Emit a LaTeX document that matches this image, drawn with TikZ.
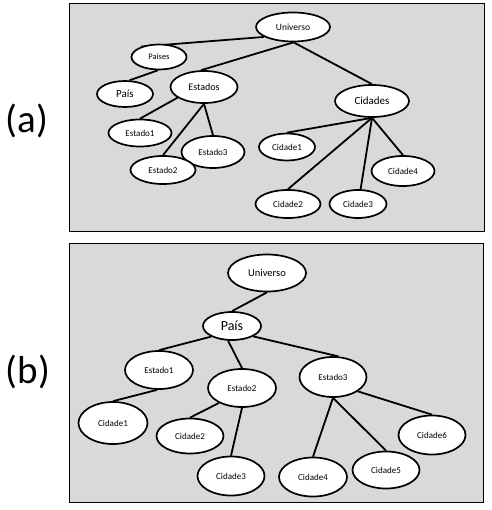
\documentclass[tikz,border=0pt]{standalone}
\usepackage{fontspec}
\setmainfont{Carlito}
\usetikzlibrary{shapes.geometric}
\pgfdeclarelayer{panels}
\pgfdeclarelayer{edges}
\pgfsetlayers{panels,edges,main}
\definecolor{panelgray}{HTML}{D9D9D9}
\tikzset{
  el/.style={ellipse, draw=black, fill=white, line width=1.7pt, inner sep=0pt, text=black},
  sz/.style 2 args={minimum width=#1pt, minimum height=#2pt},
  fs/.style={font=\fontsize{#1}{#1}\selectfont},
  edge/.style={draw=black, line width=1.8pt},
  panel/.style={draw=black, fill=panelgray, line width=1pt},
  lab/.style={font=\fontsize{39}{39}\selectfont, inner sep=0pt}
}
\begin{document}
\begin{tikzpicture}[x=1pt,y=-1pt]
\useasboundingbox (0,0) rectangle (491,510);
\begin{pgfonlayer}{panels}
  \path[panel] (69,4) rectangle (484,231);
  \path[panel] (69,243) rectangle (483,502);
\end{pgfonlayer}
\node[lab] (la) at (27,121) {(a)};
\node[lab] (lb) at (28,372) {(b)};
% panel a
\node[el, sz={74}{29}, fs=9.5] (aU) at (293,27) {Universo};
\node[el, sz={55}{25}, fs=8.5] (aPs) at (159,57) {Países};
\node[el, sz={56}{26}, fs=11] (aP) at (125,94) {País};
\node[el, sz={67}{32}, fs=10] (aE) at (204,87) {Estados};
\node[el, sz={74}{32}, fs=11] (aC) at (372,101) {Cidades};
\node[el, sz={63}{27}, fs=9] (aE1) at (140,133) {Estado1};
\node[el, sz={63}{32}, fs=9] (aE3) at (213,152) {Estado3};
\node[el, sz={65}{28}, fs=9] (aE2) at (163,170) {Estado2};
\node[el, sz={56}{27}, fs=9] (aC1) at (287,147) {Cidade1};
\node[el, sz={65}{28}, fs=9] (aC2) at (288,204) {Cidade2};
\node[el, sz={57}{28}, fs=9] (aC3) at (358,204) {Cidade3};
\node[el, sz={63}{30}, fs=9] (aC4) at (403,171) {Cidade4};
% panel b
\node[el, sz={78}{37}, fs=10.5] (bU) at (267,273) {Universo};
\node[el, sz={58}{28}, fs=14] (bP) at (232,326) {País};
\node[el, sz={68}{38}, fs=9] (bE1) at (159,370) {Estado1};
\node[el, sz={68}{38}, fs=9] (bE2) at (242,388) {Estado2};
\node[el, sz={67}{40}, fs=9] (bE3) at (333,377) {Estado3};
\node[el, sz={69}{42}, fs=9] (bC1) at (113,423) {Cidade1};
\node[el, sz={67}{35}, fs=9] (bC2) at (190,436) {Cidade2};
\node[el, sz={67}{39}, fs=9] (bC3) at (231,476) {Cidade3};
\node[el, sz={68}{39}, fs=9] (bC4) at (313,477) {Cidade4};
\node[el, sz={67}{37}, fs=9] (bC5) at (386,470) {Cidade5};
\node[el, sz={67}{39}, fs=9] (bC6) at (432,435) {Cidade6};
\begin{pgfonlayer}{edges}
  % panel a
  \draw[edge] (aU.199) -- (aPs.150);
  \draw[edge] (aPs.265) -- (aP.72);
  \draw[edge] (aU.272) -- (aE.100);
  \draw[edge] (aU.272) -- (aC.90);
  \draw[edge] (aE.202) -- (aE1.90);
  \draw[edge] (aE.270) -- (aE2.90);
  \draw[edge] (aE.270) -- (aE3.90);
  \draw[edge] (aC.270) -- (aC1.90);
  \draw[edge] (aC.270) -- (aC2.90);
  \draw[edge] (aC.270) -- (aC3.80);
  \draw[edge] (aC.270) -- (aC4.90);
  % panel b
  \draw[edge] (bU.270) -- (bP.90);
  \draw[edge] (bP.207) -- (bE1.90);
  \draw[edge] (bP.255) -- (bE2.90);
  \draw[edge] (bP.334) -- (bE3.75);
  \draw[edge] (bE1.265) -- (bC1.90);
  \draw[edge] (bE2.213) -- (bC2.90);
  \draw[edge] (bE2.270) -- (bC3.90);
  \draw[edge] (bE3.270) -- (bC4.90);
  \draw[edge] (bE3.270) -- (bC5.90);
  \draw[edge] (bE3.330) -- (bC6.90);
\end{pgfonlayer}
\end{tikzpicture}
\end{document}
